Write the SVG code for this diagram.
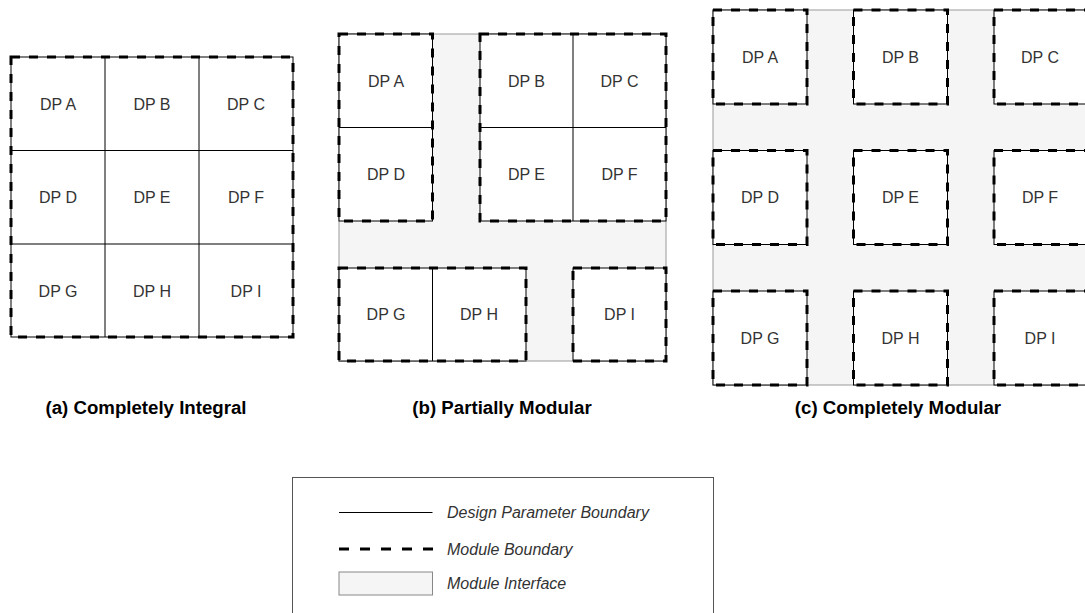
<svg xmlns="http://www.w3.org/2000/svg" width="1085" height="613" viewBox="0 0 1085 613">
  <style>
    .cell { fill: #ffffff; stroke: #000000; stroke-width: 1; }
    .div { fill: none; stroke: #000000; stroke-width: 1; }
    .mod { fill: none; stroke: #000000; stroke-width: 3; stroke-dasharray: 9 9; }
    .iface { fill: #f5f5f5; stroke: #999999; stroke-width: 1; }
    .lbl { font-family: "Liberation Sans", Arial, sans-serif; font-size: 16px; fill: #333333; text-anchor: middle; dominant-baseline: central; }
    .cap { font-family: "Liberation Sans", Arial, sans-serif; font-size: 18.67px; font-weight: bold; fill: #000000; text-anchor: middle; }
    .leg { font-family: "Liberation Sans", Arial, sans-serif; font-size: 16px; font-style: italic; fill: #333333; dominant-baseline: central; }
  </style>
  <rect width="1085" height="613" fill="#ffffff"/>

  <!-- (a) one module holding all nine design parameters -->
  <g id="panel-a">
    <rect class="cell" x="11" y="57" width="282" height="280"/>
    <path class="div" d="M105 57V337M199 57V337M11 150.5H293M11 244H293"/>
    <rect class="mod" x="11" y="57" width="282" height="280"/>
    <text class="lbl" x="58" y="104">DP A</text>
    <text class="lbl" x="152" y="104">DP B</text>
    <text class="lbl" x="246" y="104">DP C</text>
    <text class="lbl" x="58" y="197">DP D</text>
    <text class="lbl" x="152" y="197">DP E</text>
    <text class="lbl" x="246" y="197">DP F</text>
    <text class="lbl" x="58" y="291">DP G</text>
    <text class="lbl" x="152" y="291">DP H</text>
    <text class="lbl" x="246" y="291">DP I</text>
    <text class="cap" x="146" y="414">(a) Completely Integral</text>
  </g>

  <!-- (b) four modules around a shared interface -->
  <g id="panel-b">
    <rect class="iface" x="339" y="34" width="327" height="327"/>
    <g id="b-module-ad">
      <rect class="cell" x="339" y="34" width="93.5" height="187"/>
      <path class="div" d="M339 127.5H432.5"/>
      <rect class="mod" x="339" y="34" width="93.5" height="187"/>
      <text class="lbl" x="386" y="81">DP A</text>
      <text class="lbl" x="386" y="174">DP D</text>
    </g>
    <g id="b-module-bcef">
      <rect class="cell" x="480" y="34" width="186" height="187"/>
      <path class="div" d="M573 34V221M480 127.5H666"/>
      <rect class="mod" x="480" y="34" width="186" height="187"/>
      <text class="lbl" x="526.5" y="81">DP B</text>
      <text class="lbl" x="619.5" y="81">DP C</text>
      <text class="lbl" x="526.5" y="174">DP E</text>
      <text class="lbl" x="619.5" y="174">DP F</text>
    </g>
    <g id="b-module-gh">
      <rect class="cell" x="339" y="268" width="187" height="93"/>
      <path class="div" d="M432.5 268V361"/>
      <rect class="mod" x="339" y="268" width="187" height="93"/>
      <text class="lbl" x="386" y="314.5">DP G</text>
      <text class="lbl" x="479" y="314.5">DP H</text>
    </g>
    <g id="b-module-i">
      <rect class="cell" x="573" y="268" width="93" height="93"/>
      <rect class="mod" x="573" y="268" width="93" height="93"/>
      <text class="lbl" x="619.5" y="314.5">DP I</text>
    </g>
    <text class="cap" x="502" y="414">(b) Partially Modular</text>
  </g>

  <!-- (c) every design parameter is its own module -->
  <g id="panel-c">
    <rect class="iface" x="713" y="10" width="380" height="375"/>
    <g id="c-dp-a"><rect class="cell" x="713" y="10" width="94" height="94"/><rect class="mod" x="713" y="10" width="94" height="94"/><text class="lbl" x="760" y="57">DP A</text></g>
    <g id="c-dp-b"><rect class="cell" x="853.5" y="10" width="94" height="94"/><rect class="mod" x="853.5" y="10" width="94" height="94"/><text class="lbl" x="900.5" y="57">DP B</text></g>
    <g id="c-dp-c"><rect class="cell" x="994" y="10" width="94" height="94"/><rect class="mod" x="994" y="10" width="94" height="94"/><text class="lbl" x="1040" y="57">DP C</text></g>
    <g id="c-dp-d"><rect class="cell" x="713" y="150.5" width="94" height="94"/><rect class="mod" x="713" y="150.5" width="94" height="94"/><text class="lbl" x="760" y="197.5">DP D</text></g>
    <g id="c-dp-e"><rect class="cell" x="853.5" y="150.5" width="94" height="94"/><rect class="mod" x="853.5" y="150.5" width="94" height="94"/><text class="lbl" x="900.5" y="197.5">DP E</text></g>
    <g id="c-dp-f"><rect class="cell" x="994" y="150.5" width="94" height="94"/><rect class="mod" x="994" y="150.5" width="94" height="94"/><text class="lbl" x="1040" y="197.5">DP F</text></g>
    <g id="c-dp-g"><rect class="cell" x="713" y="291" width="94" height="94"/><rect class="mod" x="713" y="291" width="94" height="94"/><text class="lbl" x="760" y="338">DP G</text></g>
    <g id="c-dp-h"><rect class="cell" x="853.5" y="291" width="94" height="94"/><rect class="mod" x="853.5" y="291" width="94" height="94"/><text class="lbl" x="900.5" y="338">DP H</text></g>
    <g id="c-dp-i"><rect class="cell" x="994" y="291" width="94" height="94"/><rect class="mod" x="994" y="291" width="94" height="94"/><text class="lbl" x="1040" y="338">DP I</text></g>
    <text class="cap" x="898" y="414">(c) Completely Modular</text>
  </g>

  <!-- legend -->
  <g id="legend">
    <rect x="292.5" y="477.5" width="421" height="160" fill="#ffffff" stroke="#555555" stroke-width="1"/>
    <path d="M339 512.5H432.5" stroke="#000000" stroke-width="1" fill="none"/>
    <text class="leg" x="447" y="512.5">Design Parameter Boundary</text>
    <path d="M339 549H433" stroke="#000000" stroke-width="3" stroke-dasharray="10 11" fill="none"/>
    <text class="leg" x="447" y="549">Module Boundary</text>
    <rect x="339" y="572" width="93.5" height="23" fill="#f5f5f5" stroke="#888888" stroke-width="1"/>
    <text class="leg" x="447" y="583.5">Module Interface</text>
  </g>
</svg>
